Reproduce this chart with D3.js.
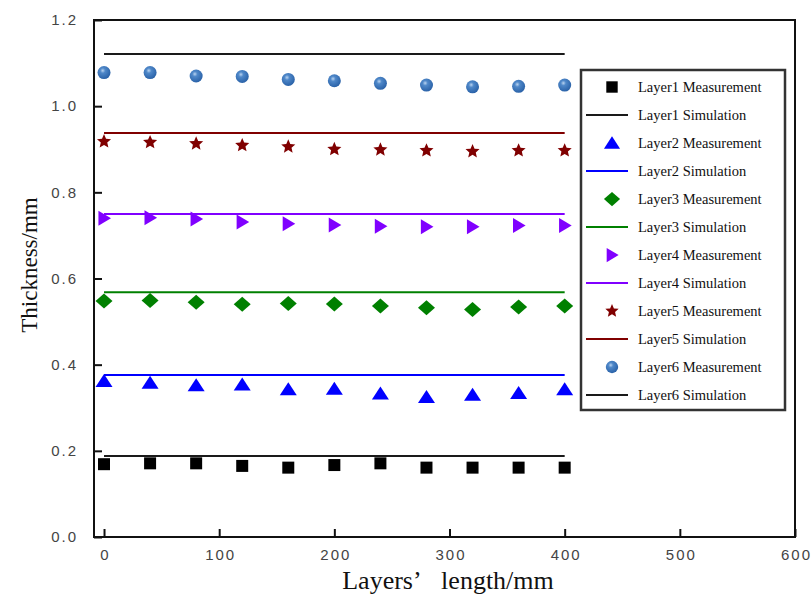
<!DOCTYPE html>
<html>
<head>
<meta charset="utf-8">
<script src="https://cdn.jsdelivr.net/npm/d3@7"></script>
<style>
  html, body { margin: 0; padding: 0; background: #fff; }
  svg { display: block; }
</style>
</head>
<body>
<svg id="chart" width="811" height="608"></svg>
<script>
// ---------- data ----------
const lengths = [0, 40, 80, 120, 160, 200, 240, 280, 320, 360, 400];
const layer1Measurement = [0.169, 0.171, 0.171, 0.165, 0.161, 0.167, 0.171, 0.161, 0.161, 0.161, 0.161];
const layer2Measurement = [0.362, 0.358, 0.352, 0.354, 0.343, 0.344, 0.333, 0.325, 0.330, 0.334, 0.343];
const layer3Measurement = [0.548, 0.549, 0.545, 0.540, 0.542, 0.541, 0.536, 0.532, 0.528, 0.534, 0.536];
const layer4Measurement = [0.740, 0.741, 0.738, 0.731, 0.727, 0.724, 0.721, 0.720, 0.720, 0.723, 0.723];
const layer5Measurement = [0.918, 0.916, 0.913, 0.909, 0.906, 0.900, 0.899, 0.897, 0.895, 0.897, 0.897];
const layer6Measurement = [1.078, 1.078, 1.070, 1.069, 1.062, 1.059, 1.053, 1.049, 1.045, 1.046, 1.049];
const simulationValues = [0.188, 0.376, 0.568, 0.750, 0.938, 1.121];
const simulationRange = [0, 400];
const xTicks = [0, 100, 200, 300, 400, 500, 600];
const yTicks = [0.0, 0.2, 0.4, 0.6, 0.8, 1.0, 1.2];
const layerNames = ["Layer1", "Layer2", "Layer3", "Layer4", "Layer5", "Layer6"];
const markerColors = ["#000000", "#0000ff", "#008000", "#8000ff", "#800000", "#2f6db5"];
const lineColors = ["#1a1a1a", "#0000ff", "#008000", "#8000ff", "#800000", "#1a1a1a"];
const markerShapes = ["square", "triangleUp", "diamond", "triangleRight", "star", "ball"];
const measurements = [layer1Measurement, layer2Measurement, layer3Measurement, layer4Measurement, layer5Measurement, layer6Measurement];

// ---------- layout ----------
const svg = d3.select("#chart");
const plot = { left: 94, right: 795, top: 20, bottom: 537 };
const x = d3.scaleLinear().domain([-8.7, 600]).range([plot.left, plot.right]);
const y = d3.scaleLinear().domain([0, 1.2]).range([plot.bottom, plot.top]);

const defs = svg.append("defs");
const grad = defs.append("radialGradient").attr("id", "ballGrad")
  .attr("cx", "40%").attr("cy", "35%").attr("r", "65%");
grad.append("stop").attr("offset", "0%").attr("stop-color", "#b9d3f0");
grad.append("stop").attr("offset", "30%").attr("stop-color", "#4f88c9");
grad.append("stop").attr("offset", "100%").attr("stop-color", "#2a62a8");

function symbolPath(shape, s) {
  const p = d3.path();
  switch (shape) {
    case "square": {
      const h = 6 * s;
      p.rect(-h, -h, 2 * h, 2 * h); break;
    }
    case "triangleUp": {
      const w = 8.5 * s, hh = 7 * s;
      p.moveTo(0, -hh); p.lineTo(w, hh * 0.85); p.lineTo(-w, hh * 0.85); p.closePath(); break;
    }
    case "diamond": {
      const w = 8.5 * s, hh = 7.5 * s;
      p.moveTo(0, -hh); p.lineTo(w, 0); p.lineTo(0, hh); p.lineTo(-w, 0); p.closePath(); break;
    }
    case "triangleRight": {
      const w = 7 * s, hh = 7.5 * s;
      p.moveTo(-w * 0.8, -hh); p.lineTo(w, 0); p.lineTo(-w * 0.8, hh); p.closePath(); break;
    }
    case "star": {
      const ro = 7.4 * s, ri = 3.4 * s;
      for (let i = 0; i < 10; i++) {
        const r = i % 2 === 0 ? ro : ri;
        const a = -Math.PI / 2 + i * Math.PI / 5;
        if (i === 0) p.moveTo(r * Math.cos(a), r * Math.sin(a));
        else p.lineTo(r * Math.cos(a), r * Math.sin(a));
      }
      p.closePath(); break;
    }
    case "ball": {
      const r = 6.5 * s;
      p.arc(0, 0, r, 0, 2 * Math.PI); break;
    }
  }
  return p.toString();
}

function drawMarker(g, shape, color, cx, cy, s) {
  g.append("path")
    .attr("d", symbolPath(shape, s))
    .attr("transform", `translate(${cx},${cy})`)
    .attr("fill", shape === "ball" ? "url(#ballGrad)" : color);
}

// ---------- frame and axes ----------
const axisColor = "#111";
const tickLabelStyle = (sel) => sel
  .attr("font-family", "Arial, 'Liberation Sans', sans-serif")
  .attr("font-size", 15)
  .attr("letter-spacing", 2)
  .attr("fill", "#444");

const xAxis = d3.axisBottom(x).tickValues(xTicks).tickSize(-8).tickPadding(12).tickFormat(d3.format("d"));
const gx = svg.append("g").attr("transform", `translate(0,${plot.bottom})`).call(xAxis);
gx.select(".domain").remove();
gx.selectAll(".tick line").attr("stroke", axisColor).attr("stroke-width", 2);
gx.selectAll(".tick text").call(tickLabelStyle).attr("dx", 1);

const yAxis = d3.axisLeft(y).tickValues(yTicks).tickSize(-8).tickPadding(16).tickFormat(d3.format(".1f"));
const gy = svg.append("g").attr("transform", `translate(${plot.left},0)`).call(yAxis);
gy.select(".domain").remove();
gy.selectAll(".tick line").attr("stroke", axisColor).attr("stroke-width", 2);
gy.selectAll(".tick text").call(tickLabelStyle);

svg.append("rect")
  .attr("x", plot.left).attr("y", plot.top)
  .attr("width", plot.right - plot.left).attr("height", plot.bottom - plot.top)
  .attr("fill", "none").attr("stroke", axisColor).attr("stroke-width", 2);

// axis titles
svg.append("text")
  .attr("transform", `translate(37,265) rotate(-90)`)
  .attr("text-anchor", "middle")
  .attr("font-family", "'Times New Roman', 'Liberation Serif', serif")
  .attr("font-size", 23)
  .attr("fill", "#111")
  .text("Thickness/mm");

svg.append("text")
  .attr("x", 448).attr("y", 589)
  .attr("text-anchor", "middle")
  .attr("font-family", "'Times New Roman', 'Liberation Serif', serif")
  .attr("font-size", 26)
  .attr("fill", "#111")
  .text("Layers\u2019\u2002 length/mm");

// ---------- data marks ----------
const marks = svg.append("g");
measurements.forEach((vals, i) => {
  const g = marks.append("g").attr("class", "series-" + layerNames[i]);
  vals.forEach((v, j) => drawMarker(g, markerShapes[i], markerColors[i], x(lengths[j]), y(v), 1));
});
const line = d3.line().x(d => x(d[0])).y(d => y(d[1]));
simulationValues.forEach((v, i) => {
  marks.append("path")
    .attr("d", line(simulationRange.map(xx => [xx, v])))
    .attr("fill", "none")
    .attr("stroke", lineColors[i])
    .attr("stroke-width", 2);
});

// ---------- legend ----------
const legend = svg.append("g");
legend.append("rect")
  .attr("x", 581).attr("y", 70).attr("width", 204).attr("height", 340)
  .attr("fill", "#fff").attr("stroke", "#333").attr("stroke-width", 2.5);
const legendItems = [];
layerNames.forEach((n, i) => {
  legendItems.push({ label: n + " Measurement", type: "marker", i });
  legendItems.push({ label: n + " Simulation", type: "line", i });
});
legendItems.forEach((it, k) => {
  const cy = 87 + k * 28;
  if (it.type === "marker") {
    drawMarker(legend, markerShapes[it.i], markerColors[it.i], 612, cy, 0.95);
  } else {
    legend.append("line").attr("x1", 586).attr("x2", 628).attr("y1", cy).attr("y2", cy)
      .attr("stroke", lineColors[it.i]).attr("stroke-width", 2);
  }
  legend.append("text")
    .attr("x", 638).attr("y", cy + 5)
    .attr("font-family", "'Times New Roman', 'Liberation Serif', serif")
    .attr("font-size", 14.5)
    .attr("fill", "#111")
    .text(it.label);
});
</script>
</body>
</html>
